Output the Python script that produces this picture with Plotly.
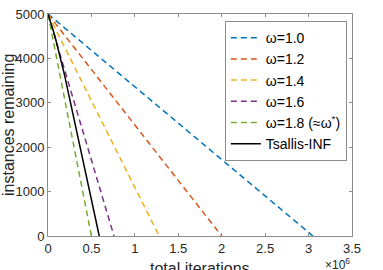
import plotly.graph_objects as go

# data
series_names = ["ω=1.0", "ω=1.2", "ω=1.4", "ω=1.6", "ω=1.8 (≈ω<sup>*</sup>)"]
series_x = [[0, 3.05e6], [0, 2.0e6], [0, 1.28e6], [0, 0.76e6], [0, 0.50e6]]
series_y = [[5000, 0], [5000, 0], [5000, 0], [5000, 0], [5000, 0]]
series_colors = ["#0072BD", "#D95319", "#EDB120", "#7E2F8E", "#77AC30"]
tsallis_x = [0, 0.08e6, 0.19e6, 0.59e6]
tsallis_y = [5000, 4500, 3630, 0]
x_ticks = [0, 0.5e6, 1e6, 1.5e6, 2e6, 2.5e6, 3e6, 3.5e6]
x_tick_labels = ["0", "0.5", "1", "1.5", "2", "2.5", "3", "3.5"]
y_ticks = [0, 1000, 2000, 3000, 4000, 5000]

fig = go.Figure()
for name, xs, ys, c in zip(series_names, series_x, series_y, series_colors):
    fig.add_trace(go.Scatter(x=xs, y=ys, mode="lines", name=name,
                             line=dict(color=c, width=1.5, dash="6px,4px")))
fig.add_trace(go.Scatter(x=tsallis_x, y=tsallis_y, mode="lines", name="Tsallis-INF",
                         line=dict(color="black", width=1.5)))

axcol = "#8c8c8c"
fam = "Liberation Sans, Arial, sans-serif"
fig.update_layout(
    width=383, height=270,
    margin=dict(l=48, r=31, t=14, b=34),
    paper_bgcolor="white", plot_bgcolor="white",
    font=dict(family=fam, size=13, color="#262626"),
    showlegend=True,
    legend=dict(x=0.983, y=0.968, xanchor="right", yanchor="top",
                bgcolor="white", bordercolor=axcol, borderwidth=1,
                font=dict(family=fam, size=14, color="black"),
                tracegroupgap=0, itemwidth=30),
    xaxis=dict(range=[0, 3.5e6], tickvals=x_ticks, ticktext=x_tick_labels,
               automargin=False,
               showgrid=False, zeroline=False, showline=True, linecolor=axcol,
               linewidth=1, mirror="ticks", ticks="inside", ticklen=3, tickcolor=axcol,
               tickfont=dict(size=13, color="#262626")),
    yaxis=dict(range=[0, 5000], tickvals=y_ticks, automargin=False,
               showgrid=False, zeroline=False, showline=True, linecolor=axcol,
               linewidth=1, mirror="ticks", ticks="inside", ticklen=3, tickcolor=axcol,
               tickfont=dict(size=13, color="#262626")),
)
fig.add_annotation(text="instances remaining", xref="paper", yref="paper", x=0, y=0.5,
                   xshift=-40, xanchor="center", yanchor="middle", textangle=-90,
                   showarrow=False, font=dict(size=16, color="#262626"))
fig.add_annotation(text="total iterations", xref="paper", yref="paper", x=0.5, y=-0.10,
                   xanchor="center", yanchor="top", showarrow=False,
                   font=dict(size=16, color="#262626"))
fig.add_annotation(text="×10<sup>6</sup>", xref="paper", yref="paper", x=1.0, y=-0.082,
                   xanchor="right", yanchor="top", showarrow=False,
                   font=dict(size=12, color="#262626"))
fig.write_html("out.html", config={"displayModeBar": False},
               post_script="document.body.style.margin='0';document.body.style.overflow='hidden';")
